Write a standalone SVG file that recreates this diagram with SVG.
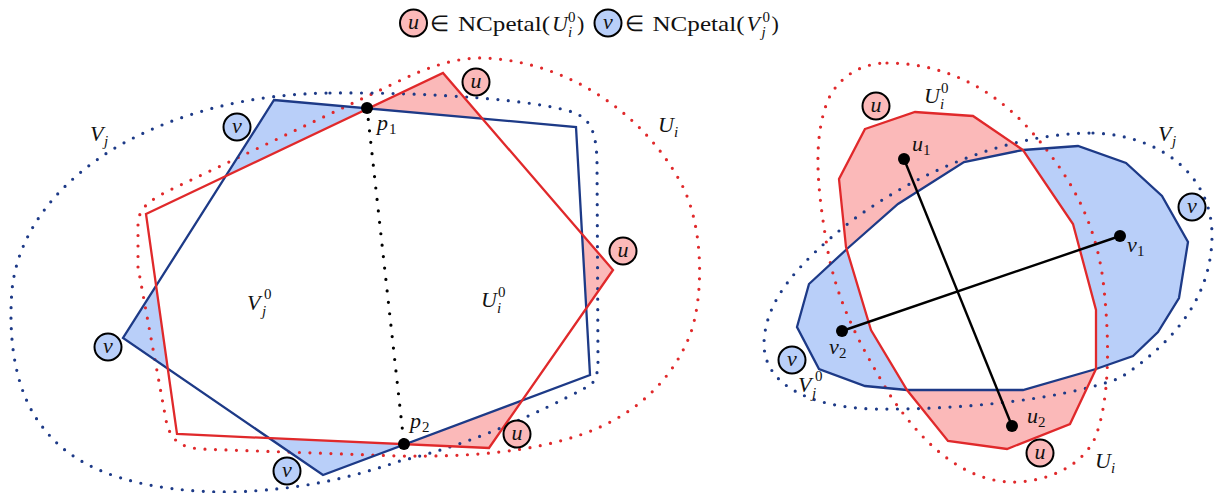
<svg xmlns="http://www.w3.org/2000/svg" width="1214" height="493" viewBox="0 0 1214 493">
<style>
.t{font-family:"Liberation Serif","Times New Roman",serif;font-size:22px;fill:#111}
.i{font-style:italic}
.s{font-size:15px}
.fr{fill:#fbb9b9;stroke:none}
.fb{fill:#b9cff9;stroke:none}
.sr{fill:none;stroke:#e0292b;stroke-width:2.3;stroke-linejoin:miter}
.sb{fill:none;stroke:#1d3a87;stroke-width:2.3;stroke-linejoin:miter}
.dr{fill:none;stroke:#e0292b;stroke-width:3.2;stroke-linecap:round;stroke-dasharray:0 10.5}
.db{fill:none;stroke:#1d3a87;stroke-width:3.2;stroke-linecap:round;stroke-dasharray:0 10.5}
.dk{fill:none;stroke:#000;stroke-width:3.2;stroke-linecap:round;stroke-dasharray:0 11.5}
.cu{fill:#fbb9b9;stroke:#000;stroke-width:2}
.cv{fill:#b9cff9;stroke:#000;stroke-width:2}
.ln{stroke:#000;stroke-width:2.4}
</style>
<defs>
<clipPath id="clipBR"><polygon points="797,327 809,284 848,248 898,204 964,162 1023,150 1078,146 1126,163 1162,196 1188,242 1179,298 1158,332 1133,356 1096,369 1023,390 907,390 865,386 819,369"/></clipPath>
</defs>
<rect width="1214" height="493" fill="#fff"/>

<g id="legend">
<circle class="cu" cx="413.5" cy="23" r="13.5"/>
<text class="t i" x="413.5" y="29" text-anchor="middle">u</text>
<text class="t" x="430" y="31">∈</text>
<text class="t" x="458" y="31" textLength="92" lengthAdjust="spacingAndGlyphs">NCpetal(</text>
<text class="t i" x="552" y="31">U</text>
<text class="t s" x="568" y="22">0</text>
<text class="t i s" x="568" y="37">i</text>
<text class="t" x="577" y="31">)</text>
<circle class="cv" cx="608" cy="23" r="13.5"/>
<text class="t i" x="608" y="29" text-anchor="middle">v</text>
<text class="t" x="624.5" y="31">∈</text>
<text class="t" x="652.5" y="31" textLength="92" lengthAdjust="spacingAndGlyphs">NCpetal(</text>
<text class="t i" x="746.5" y="31">V</text>
<text class="t s" x="762.5" y="22">0</text>
<text class="t i s" x="761.5" y="37">j</text>
<text class="t" x="771.5" y="31">)</text>
</g>

<!-- LEFT -->
<g id="left-petal-fills">
<polygon class="fb" points="274,100 367,108 225.6,176.3"/>
<polygon class="fb" points="156.1,285.8 123,338 167.8,368.7"/>
<polygon class="fb" points="269.2,438.1 323,475 404,444"/>
<polygon class="fr" points="367,108 443,73 482.4,118.6"/>
<polygon class="fr" points="582.1,234.1 613,270 586.2,308.4"/>
<polygon class="fr" points="522.1,400.4 489,448 404,444"/>
</g>
<g id="U_i-left">
<path class="dr" d="M138,267 L138,225 C138,208 150,200 170,190 L395,83 C425,68 455,57 485,58 C570,62 645,115 682,185 C705,230 703,300 690,335 C670,385 630,418 580,435 C530,452 470,457 400,456 L200,449 C180,447 170,440 166,420 Z"/>
<text class="t i" x="658" y="132">U</text><text class="t i s" x="674" y="137">i</text>
</g>
<g id="V_j-left">
<path class="db" d="M330,93 C430,92 540,100 575,113 C592,120 596,135 597,160 L598,360 C598,378 594,384 585,388 C540,412 470,445 400,461 C350,478 300,490 230,492 C150,492 80,475 45,430 C15,395 8,340 12,290 C18,230 60,180 120,145 C180,112 250,94 330,93 Z"/>
<text class="t i" x="90" y="141">V</text><text class="t i s" x="104" y="146">j</text>
</g>
<g id="V_j0-left">
<polygon class="sb" points="274,100 576,127 590,375 323,475 123,338"/>
<text class="t i" x="247" y="310">V</text><text class="t s" x="264" y="299">0</text><text class="t i s" x="262" y="316">j</text>
</g>
<g id="U_i0-left">
<polygon class="sr" points="146,214 443,73 613,270 489,448 177,434"/>
<text class="t i" x="481" y="307">U</text><text class="t s" x="498" y="297">0</text><text class="t i s" x="497" y="313">i</text>
</g>
<g id="petals-left">
<circle class="cv" cx="237" cy="127" r="13.5"/><text class="t i" x="237" y="133" text-anchor="middle">v</text>
<circle class="cu" cx="476" cy="82" r="13.5"/><text class="t i" x="476" y="88" text-anchor="middle">u</text>
<circle class="cu" cx="623" cy="251" r="13.5"/><text class="t i" x="623" y="257" text-anchor="middle">u</text>
<circle class="cv" cx="108" cy="347" r="13.5"/><text class="t i" x="108" y="353" text-anchor="middle">v</text>
<circle class="cv" cx="287" cy="471" r="13.5"/><text class="t i" x="287" y="477" text-anchor="middle">v</text>
<circle class="cu" cx="517" cy="434" r="13.5"/><text class="t i" x="517" y="440" text-anchor="middle">u</text>
</g>

<!-- RIGHT -->
<g id="right-fills">
<polygon class="fb" points="797,327 809,284 848,248 898,204 964,162 1023,150 1078,146 1126,163 1162,196 1188,242 1179,298 1158,332 1133,356 1096,369 1023,390 907,390 865,386 819,369"/>
<polygon class="fr" points="865,129 915,112 973,116 1023,150 1073,224 1096,310 1096,369 1070,424 1007,449 948,441 907,390 871,330 846,247 839,179"/>
<polygon fill="#fff" clip-path="url(#clipBR)" points="865,129 915,112 973,116 1023,150 1073,224 1096,310 1096,369 1070,424 1007,449 948,441 907,390 871,330 846,247 839,179"/>
</g>
<g id="U_i-right">
<path class="dr" d="M887,63 C940,63 990,85 1030,130 C1070,175 1095,220 1103,280 C1110,340 1110,400 1095,438 C1080,470 1040,483 1010,482 C960,480 920,440 890,395 C860,345 835,300 826,240 C818,190 812,140 828,100 C838,78 860,63 887,63 Z"/>
<text class="t i" x="1095" y="468">U</text><text class="t i s" x="1111" y="473">i</text>
</g>
<g id="V_j-right">
<path class="db" d="M1093,133 C1160,135 1212,175 1212,235 C1212,300 1170,345 1120,378 C1060,400 960,410 873,409 C810,407 765,385 764,345 C764,300 800,262 850,222 C920,170 1010,133 1093,133 Z"/>
<text class="t i" x="1158" y="141">V</text><text class="t i s" x="1172" y="146">j</text>
</g>
<g id="V_j0-right">
<polygon class="sb" points="797,327 809,284 848,248 898,204 964,162 1023,150 1078,146 1126,163 1162,196 1188,242 1179,298 1158,332 1133,356 1096,369 1023,390 907,390 865,386 819,369"/>
<text class="t i" x="798" y="392">V</text><text class="t s" x="815" y="381">0</text><text class="t i s" x="812" y="398">j</text>
</g>
<g id="U_i0-right">
<polygon class="sr" points="865,129 915,112 973,116 1023,150 1073,224 1096,310 1096,369 1070,424 1007,449 948,441 907,390 871,330 846,247 839,179"/>
<text class="t i" x="924" y="103">U</text><text class="t s" x="941" y="93">0</text><text class="t i s" x="940" y="109">i</text>
</g>
<g id="petals-right">
<circle class="cu" cx="876" cy="106" r="13.5"/><text class="t i" x="876" y="112" text-anchor="middle">u</text>
<circle class="cv" cx="1192" cy="207" r="13.5"/><text class="t i" x="1192" y="213" text-anchor="middle">v</text>
<circle class="cv" cx="792" cy="360" r="13.5"/><text class="t i" x="792" y="366" text-anchor="middle">v</text>
<circle class="cu" cx="1040" cy="453" r="13.5"/><text class="t i" x="1040" y="459" text-anchor="middle">u</text>
</g>

<g id="connectors">
<line class="dk" x1="367" y1="108" x2="404" y2="444"/>
<line class="ln" x1="904" y1="159" x2="1012" y2="426"/>
<line class="ln" x1="1120" y1="236" x2="842" y2="331"/>
</g>

<g id="points">
<g id="p1"><circle cx="367" cy="108" r="6"/><text class="t i" x="377" y="130">p</text><text class="t s" x="389" y="134">1</text></g>
<g id="p2"><circle cx="404" cy="444" r="6"/><text class="t i" x="410" y="428">p</text><text class="t s" x="422" y="432">2</text></g>
<g id="u1"><circle cx="904" cy="159" r="6"/><text class="t i" x="912" y="151">u</text><text class="t s" x="923" y="155">1</text></g>
<g id="u2"><circle cx="1012" cy="426" r="6"/><text class="t i" x="1027" y="423">u</text><text class="t s" x="1038" y="427">2</text></g>
<g id="v1"><circle cx="1120" cy="236" r="6"/><text class="t i" x="1127" y="252">v</text><text class="t s" x="1137" y="256">1</text></g>
<g id="v2"><circle cx="842" cy="331" r="6"/><text class="t i" x="829" y="354">v</text><text class="t s" x="839" y="358">2</text></g>
</g>
</svg>
